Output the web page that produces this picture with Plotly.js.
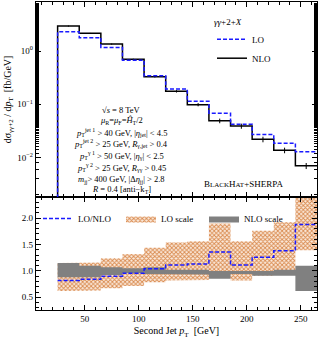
<!DOCTYPE html>
<html><head><meta charset="utf-8">
<script src="https://cdn.plot.ly/plotly-3.0.1.min.js"></script>
<style>html,body{margin:0;padding:0;background:#fff;}</style>
</head><body>
<div id="chart" style="width:326px;height:345px;"></div>
<script>
// ---- data ----
const binEdges = [25,45,65,85,105,125,145,165,185,205,225,245,265];
const nloValues = [2.94,2.15,1.35,0.70,0.33,0.175,0.0985,0.049,0.039,0.022,0.0137,0.0070];
const loValues  = [2.30,1.78,1.17,0.67,0.344,0.194,0.114,0.068,0.042,0.027,0.0185,0.0129];
const nloRelErr = [0.01,0.01,0.01,0.02,0.03,0.05,0.07,0.10,0.11,0.12,0.12,0.13];
const ratioLoNlo   = [0.82,0.84,0.90,0.955,1.04,1.11,1.13,1.36,1.11,1.26,1.38,1.88];
const loScaleUp    = [1.15,1.16,1.24,1.32,1.44,1.54,1.56,1.90,1.56,1.76,1.92,2.60];
const loScaleDown  = [0.62,0.63,0.67,0.715,0.785,0.82,0.83,0.87,0.82,0.91,0.95,1.39];
const nloScaleUp   = [1.15,1.10,1.07,1.05,1.07,1.02,1.02,1.00,1.00,1.00,1.02,1.10];
const nloScaleDown = [0.88,0.88,0.925,0.955,0.94,0.93,0.93,0.85,0.94,0.91,0.91,0.62];
const yTickVals = [0.01,0.1,1];
const yTickText = ['10<sup>−2</sup>','10<sup>−1</sup>','10<sup>0</sup>'];

// ---- helpers ----
function stairs(edges, vals){
  const xs=[], ys=[];
  for(let i=0;i<vals.length;i++){ xs.push(edges[i],edges[i+1]); ys.push(vals[i],vals[i]); }
  return {x:xs,y:ys};
}
function band(edges, up, down){
  const u=stairs(edges,up), d=stairs(edges,down);
  return {x:u.x.concat(d.x.slice().reverse()), y:u.y.concat(d.y.slice().reverse())};
}
const centers = binEdges.slice(0,-1).map((e,i)=>(e+binEdges[i+1])/2);

const FONT = 'Liberation Serif, Times New Roman, serif';
const nloSt = stairs(binEdges,nloValues);
const loSt = stairs(binEdges,loValues);
const floorY = 1e-4;

const traces = [
  {x:[binEdges[0]].concat(nloSt.x), y:[floorY].concat(nloSt.y), mode:'lines', name:'NLO',
   line:{color:'black',width:1.5}, xaxis:'x2', yaxis:'y2', legend:'legend', legendrank:2},
  {x:centers, y:nloValues, mode:'markers', marker:{size:1,color:'black'}, showlegend:false,
   error_y:{type:'data', array:nloValues.map((v,i)=>v*nloRelErr[i]), color:'black', thickness:1, width:0},
   xaxis:'x2', yaxis:'y2', hoverinfo:'skip'},
  {x:[binEdges[0]].concat(loSt.x), y:[floorY].concat(loSt.y), mode:'lines', name:'LO',
   line:{color:'#1a1aff',width:1.5,dash:'4px,2px'}, xaxis:'x2', yaxis:'y2', legend:'legend', legendrank:1},
  Object.assign({type:'scatter', mode:'lines', fill:'toself', name:'LO scale',
   line:{width:0,color:'#e6b088'}, fillcolor:'#fbeadc',
   fillpattern:{shape:'x', size:3, solidity:0.5, fgcolor:'#d98a4e', bgcolor:'#fbeadc'},
   xaxis:'x', yaxis:'y', legend:'legend2', legendrank:2}, band(binEdges,loScaleUp,loScaleDown)),
  Object.assign({type:'scatter', mode:'lines', fill:'toself', name:'NLO scale',
   line:{width:0,color:'#808080'}, fillcolor:'#808080',
   xaxis:'x', yaxis:'y', legend:'legend2', legendrank:3}, band(binEdges,nloScaleUp,nloScaleDown)),
  Object.assign({mode:'lines', name:'LO/NLO', line:{color:'#1a1aff',width:1.5,dash:'4px,2px'},
   xaxis:'x', yaxis:'y', legend:'legend2', legendrank:1}, stairs(binEdges,ratioLoNlo))
];

const axCommon = {showline:true, linecolor:'black', linewidth:1.3, mirror:'allticks', ticks:'inside',
  ticklen:5, tickcolor:'black', tickwidth:1, showgrid:false, zeroline:false,
  tickfont:{family:FONT,size:9,color:'black'}};

const split = 113/308;
const pY = px => (310-px)/308;
const pX = px => (px-36)/281;

const textLines = [
  ['√<i>s</i> = 8 TeV',109.5],
  ['<i>μ</i><sub>R</sub>=<i>μ</i><sub>F</sub>=<i>Ĥ</i><sub>T</sub>/2',120.5],
  ['<i>p</i><sub>T</sub><sup>jet 1</sup> > 40 GeV, |<i>η</i><sub>jet</sub>| < 4.5',132],
  ['<i>p</i><sub>T</sub><sup>jet 2</sup> > 25 GeV, <i>R</i><sub>γ,jet</sub> > 0.4',143.5],
  ['<i>p</i><sub>T</sub><sup>γ 1</sup> > 50 GeV, |<i>η</i><sub>γ</sub>| < 2.5',155.5],
  ['<i>p</i><sub>T</sub><sup>γ 2</sup> > 25 GeV, <i>R</i><sub>γγ</sub> > 0.45',167.5],
  ['<i>m</i><sub>jj</sub>> 400 GeV, |Δ<i>η</i><sub>jj</sub>| > 2.8',179],
  ['<i>R</i> = 0.4 [anti−k<sub>T</sub>]',189.5]
];
const annotations = textLines.map(([t,py])=>({text:t, xref:'paper', yref:'paper', x:pX(121), y:pY(py),
  xanchor:'center', yanchor:'middle', showarrow:false, font:{family:FONT,size:8.5,color:'black'}}));
annotations.push({text:'B<span style="font-size:7px">LACK</span>H<span style="font-size:7px">AT</span>+SHERPA',
  xref:'paper', yref:'paper', x:pX(244), y:pY(184), xanchor:'center', yanchor:'middle', showarrow:false,
  font:{family:FONT,size:9,color:'black'}});

const layout = {
  width:326, height:345, margin:{l:36,r:9,t:2,b:35},
  paper_bgcolor:'white', plot_bgcolor:'white',
  font:{family:FONT,size:9,color:'black'},
  xaxis:Object.assign({}, axCommon, {range:[5,265], anchor:'y', dtick:50, tick0:0,
    minor:{ticks:'inside', ticklen:3, dtick:10, tickcolor:'black'},
    title:{text:'Second Jet <i>p</i><sub>T</sub>  [GeV]', font:{family:FONT,size:10}, standoff:4}}),
  yaxis:Object.assign({}, axCommon, {domain:[0,split], range:[0.26,2.40], anchor:'x', dtick:0.5, tick0:0,
    tickformat:'.1f', minor:{ticks:'inside', ticklen:3, dtick:0.1, tickcolor:'black'}}),
  xaxis2:Object.assign({}, axCommon, {range:[5,265], anchor:'y2', matches:'x', dtick:50, tick0:0,
    showticklabels:false, minor:{ticks:'inside', ticklen:3, dtick:10, tickcolor:'black'}}),
  yaxis2:Object.assign({}, axCommon, {domain:[split,1], type:'log', range:[-2.74,0.92], anchor:'x2',
    tickvals:yTickVals, ticktext:yTickText, minor:{ticks:'inside', ticklen:3, tickcolor:'black'},
    title:{text:'dσ<sub>γγ+2</sub> / d<i>p</i><sub>T</sub>  [fb/GeV]', font:{family:FONT,size:10}, standoff:3}}),
  legend:{x:pX(212), y:pY(13), xanchor:'left', yanchor:'top', bgcolor:'rgba(0,0,0,0)',
    font:{family:FONT,size:9}, itemwidth:30, tracegroupgap:0,
    title:{text:'<i>γγ</i>+2+<i>X</i>', side:'top', font:{family:FONT,size:9}}},
  legend2:{x:pX(38), y:pY(204), xanchor:'left', yanchor:'top', orientation:'h', bgcolor:'rgba(0,0,0,0)',
    font:{family:FONT,size:9}, itemwidth:30, entrywidth:38},
  annotations:annotations,
  showlegend:true
};
Plotly.newPlot('chart', traces, layout, {staticPlot:true, displayModeBar:false});
</script>
</body></html>
